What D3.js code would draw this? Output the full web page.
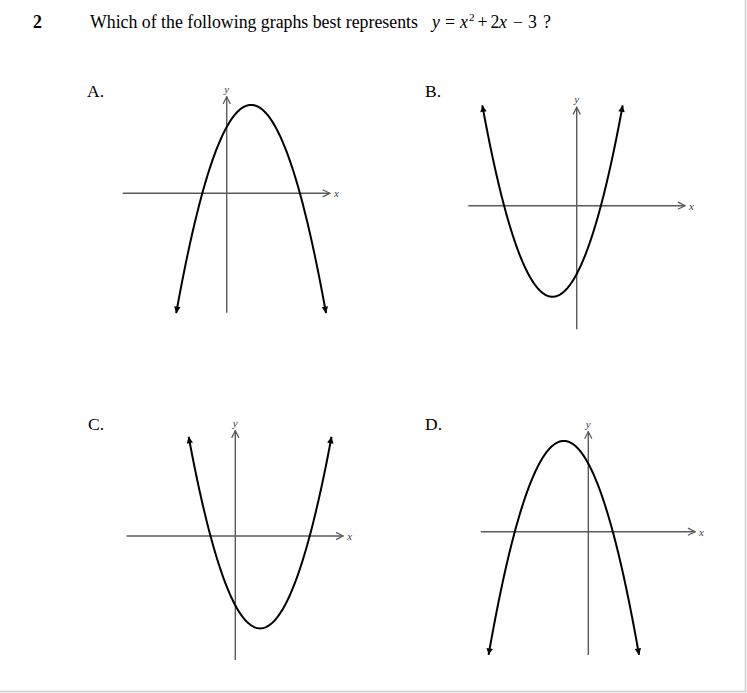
<!DOCTYPE html>
<html>
<head>
<meta charset="utf-8">
<script src="https://cdn.jsdelivr.net/npm/d3@7"></script>
<style>
  html, body { margin: 0; padding: 0; background: #fff; }
  svg { display: block; }
</style>
</head>
<body>
<svg id="chart" width="747" height="693"></svg>
<script>
// ---------- data ----------
const optionLabels = ["A.", "B.", "C.", "D."];
// y = a x^2 + b x + c for each option
const coefA = [-1, 1, 1, -1];
const coefB = [2, 2, -2, -2];
const coefC = [3, -3, -3, 3];
// visible part of each curve (x values, arrow tips at both ends)
const curveStart = [-2.07, -3.90, -1.88, -4.07];
const curveEnd   = [4.07, 1.90, 3.88, 2.07];
// extent of each pair of axes (units)
const xAxisMin = [-4.26, -4.48, -4.38, -4.39];
const xAxisMax = [4.23, 4.48, 4.35, 4.36];
const yAxisMin = [-5.40, -5.43, -5.37, -5.43];
const yAxisMax = [4.37, 4.33, 4.56, 4.41];
const questionNumber = "2";
const questionText = "Which of the following graphs best represents";

// ---------- layout ----------
const panelLayout = [
  { ox: 226.7, oy: 193.3, kx: 24.4, ky: 22.1,  lx: 87,  ly: 97 },
  { ox: 576.7, oy: 205.7, kx: 24.2, ky: 22.75, lx: 425, ly: 97 },
  { ox: 235.3, oy: 536.0, kx: 24.8, ky: 23.1,  lx: 88,  ly: 430 },
  { ox: 588.3, oy: 531.7, kx: 24.5, ky: 22.7,  lx: 425, ly: 430 }
];
const serif = "'Liberation Serif', 'Times New Roman', Times, serif";

const svg = d3.select("#chart");
svg.append("rect").attr("width", 747).attr("height", 693).attr("fill", "#fff");

// frame edges (right and bottom)
svg.append("line").attr("x1", 745.5).attr("x2", 745.5).attr("y1", 0).attr("y2", 692)
  .attr("stroke", "#cfcfcf").attr("stroke-width", 1.5);
svg.append("line").attr("x1", 0).attr("x2", 746).attr("y1", 691.5).attr("y2", 691.5)
  .attr("stroke", "#cfcfcf").attr("stroke-width", 1.5);

// markers
const defs = svg.append("defs");
defs.append("marker").attr("id", "axisArrow")
  .attr("viewBox", "0 0 10 10").attr("refX", 9).attr("refY", 5)
  .attr("markerUnits", "userSpaceOnUse").attr("markerWidth", 9).attr("markerHeight", 9)
  .attr("orient", "auto")
  .append("path").attr("d", "M1,1 L9,5 L1,9")
  .attr("fill", "none").attr("stroke", "#5a5a5a").attr("stroke-width", 1.4);
defs.append("marker").attr("id", "curveArrow")
  .attr("viewBox", "0 0 10 10").attr("refX", 10).attr("refY", 5)
  .attr("markerUnits", "userSpaceOnUse").attr("markerWidth", 8).attr("markerHeight", 6.5)
  .attr("orient", "auto-start-reverse")
  .append("path").attr("d", "M0,0 L10,5 L0,10 Z").attr("fill", "#000");

// ---------- header ----------
const header = svg.append("g").attr("font-family", serif).attr("font-size", 17.8).attr("fill", "#000");
header.append("text").attr("x", 33).attr("y", 28).attr("font-weight", "bold").text(questionNumber);
header.append("text").attr("x", 90).attr("y", 28).text(questionText);
const eq = [
  { t: "y", x: 432, i: true },
  { t: "=", x: 445 },
  { t: "x", x: 460, i: true },
  { t: "2", x: 469, sup: true },
  { t: "+", x: 477.5 },
  { t: "2", x: 490.5 },
  { t: "x", x: 499, i: true },
  { t: "\u2212", x: 513 },
  { t: "3", x: 528 },
  { t: "?", x: 543 }
];
header.selectAll("text.eq").data(eq).join("text").attr("class", "eq")
  .attr("x", d => d.x).attr("y", d => d.sup ? 20.5 : 28)
  .attr("font-size", d => d.sup ? 11 : 17.8)
  .attr("font-style", d => d.i ? "italic" : "normal")
  .text(d => d.t);

// ---------- panels ----------
optionLabels.forEach((lab, i) => {
  const L = panelLayout[i];
  const x = d3.scaleLinear().domain([0, 1]).range([L.ox, L.ox + L.kx]);
  const y = d3.scaleLinear().domain([0, 1]).range([L.oy, L.oy - L.ky]);
  const g = svg.append("g");

  g.append("text").attr("x", L.lx).attr("y", L.ly)
    .attr("font-family", serif).attr("font-size", 17.5).text(lab);

  // x axis
  g.append("line")
    .attr("x1", x(xAxisMin[i])).attr("x2", x(xAxisMax[i]))
    .attr("y1", y(0)).attr("y2", y(0))
    .attr("stroke", "#5a5a5a").attr("stroke-width", 1.4)
    .attr("marker-end", "url(#axisArrow)");
  // y axis
  g.append("line")
    .attr("x1", x(0)).attr("x2", x(0))
    .attr("y1", y(yAxisMin[i])).attr("y2", y(yAxisMax[i]))
    .attr("stroke", "#5a5a5a").attr("stroke-width", 1.4)
    .attr("marker-end", "url(#axisArrow)");

  g.append("text").attr("x", x(xAxisMax[i]) + 4).attr("y", y(0) + 4)
    .attr("font-family", serif).attr("font-style", "italic").attr("font-size", 11)
    .attr("fill", "#3a3a4a").text("x");
  g.append("text").attr("x", x(0)).attr("y", y(yAxisMax[i]) - 4)
    .attr("text-anchor", "middle")
    .attr("font-family", serif).attr("font-style", "italic").attr("font-size", 11)
    .attr("fill", "#3a3a4a").text("y");

  // curve
  const n = 160;
  const xs = d3.range(n + 1).map(k => curveStart[i] + (curveEnd[i] - curveStart[i]) * k / n);
  const pts = xs.map(v => [v, coefA[i] * v * v + coefB[i] * v + coefC[i]]);
  g.append("path").datum(pts)
    .attr("d", d3.line().x(d => x(d[0])).y(d => y(d[1])))
    .attr("fill", "none").attr("stroke", "#000").attr("stroke-width", 2)
    .attr("marker-start", "url(#curveArrow)").attr("marker-end", "url(#curveArrow)");
});
</script>
</body>
</html>
